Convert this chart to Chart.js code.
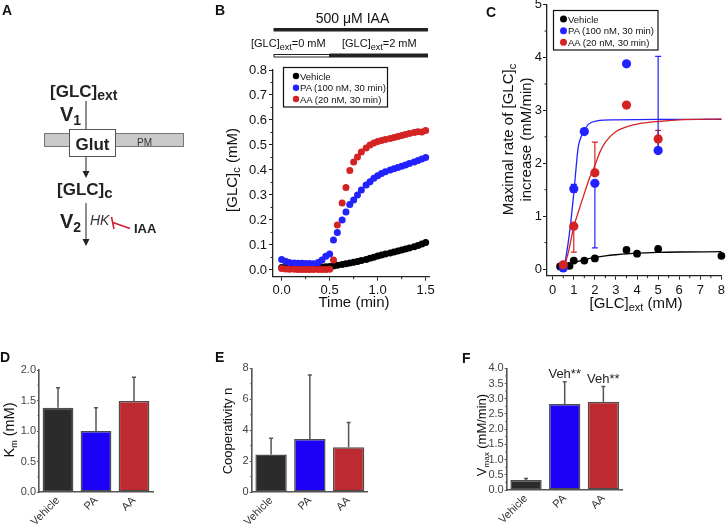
<!DOCTYPE html>
<html>
<head>
<meta charset="utf-8">
<script src="https://cdn.jsdelivr.net/npm/chart.js@4.4.0/dist/chart.umd.min.js"></script>
<style>
  body { margin: 0; background: #fff; }
  #wrap { position: relative; width: 726px; height: 524px; background: #fff; overflow: hidden; }
  #wrap canvas, #wrap svg { position: absolute; left: 0; top: 0; }
  #wrap svg { pointer-events: none; }
</style>
</head>
<body>
<div id="wrap">
  <canvas id="chartB" width="726" height="524"></canvas>
  <canvas id="chartC" width="726" height="524"></canvas>
  <canvas id="chartD" width="726" height="524"></canvas>
  <canvas id="chartE" width="726" height="524"></canvas>
  <canvas id="chartF" width="726" height="524"></canvas>

  <svg width="726" height="524" font-family="Liberation Sans, Arial, sans-serif" fill="#111">
    <!-- A: scheme -->
    <text x="2" y="15" font-size="14" font-weight="bold">A</text>
    <text x="50" y="97" font-size="17" font-weight="bold" fill="#222">[GLC]<tspan font-size="14" dy="3">ext</tspan></text>
    <line x1="86" y1="101" x2="86" y2="130" stroke="#444" stroke-width="1.2"/>
    <text x="60" y="121" font-size="20" font-weight="bold" fill="#222">V<tspan font-size="14" dy="4">1</tspan></text>
    <rect x="44.5" y="133.5" width="139" height="13" fill="#c9c9c9" stroke="#777" stroke-width="1"/>
    <text x="137" y="146" font-size="10" fill="#333">PM</text>
    <rect x="69.5" y="129.5" width="46" height="27" fill="#fff" stroke="#555" stroke-width="1"/>
    <text x="92.5" y="150" font-size="17" font-weight="bold" text-anchor="middle" fill="#222">Glut</text>
    <line x1="86" y1="157" x2="86" y2="172" stroke="#444" stroke-width="1.2"/>
    <polygon points="82.5,171 89.5,171 86,178" fill="#222"/>
    <text x="57" y="195" font-size="17" font-weight="bold" fill="#222">[GLC]<tspan font-size="15" dy="3">c</tspan></text>
    <line x1="86" y1="203" x2="86" y2="240" stroke="#444" stroke-width="1.2"/>
    <polygon points="82.5,239 89.5,239 86,246" fill="#222"/>
    <text x="60" y="228" font-size="20" font-weight="bold" fill="#222">V<tspan font-size="14" dy="4">2</tspan></text>
    <text x="90" y="225" font-size="14" font-style="italic" fill="#333">HK</text>
    <line x1="111.5" y1="217" x2="114" y2="229" stroke="#d02030" stroke-width="1.6"/>
    <line x1="113" y1="222.5" x2="130" y2="228.5" stroke="#d02030" stroke-width="1.6"/>
    <text x="134" y="233" font-size="13" font-weight="bold" fill="#222">IAA</text>

    <!-- B: protocol bars, legend, titles -->
    <text x="215" y="15" font-size="14" font-weight="bold">B</text>
    <text x="352.5" y="22.5" font-size="14" text-anchor="middle">500 μM IAA</text>
    <rect x="273.5" y="28" width="154.5" height="3.5" fill="#222"/>
    <text x="251" y="47" font-size="11">[GLC]<tspan font-size="9" dy="3">ext</tspan><tspan dy="-3">=0 mM</tspan></text>
    <text x="342" y="47" font-size="11">[GLC]<tspan font-size="9" dy="3">ext</tspan><tspan dy="-3">=2 mM</tspan></text>
    <rect x="274" y="54.5" width="55.5" height="2.5" fill="#fff" stroke="#222" stroke-width="1"/>
    <rect x="329.5" y="53.5" width="98.5" height="4" fill="#222"/>
    <rect x="283.5" y="67.5" width="104" height="39.5" fill="#fff" stroke="#111" stroke-width="1.2"/>
    <circle cx="296" cy="76" r="3.2" fill="#000"/>
    <text x="300" y="79.5" font-size="9.5">Vehicle</text>
    <circle cx="296" cy="87.7" r="3.2" fill="#2222ff"/>
    <text x="300" y="91.2" font-size="9.5">PA (100 nM, 30 min)</text>
    <circle cx="296" cy="99" r="3.2" fill="#d42323"/>
    <text x="300" y="102.5" font-size="9.5">AA (20 nM, 30 min)</text>
    <text transform="translate(236.5,170) rotate(-90)" font-size="15" text-anchor="middle">[GLC]<tspan font-size="11" dy="3">c</tspan><tspan dy="-3"> (mM)</tspan></text>
    <text x="354" y="307" font-size="15" text-anchor="middle">Time (min)</text>

    <!-- C: legend, titles -->
    <text x="486" y="16.5" font-size="14" font-weight="bold">C</text>
    <rect x="553.5" y="10.5" width="104.5" height="39.5" fill="#fff" stroke="#111" stroke-width="1.2"/>
    <circle cx="563.5" cy="19" r="3.5" fill="#000"/>
    <text x="568" y="22.5" font-size="9.5">Vehicle</text>
    <circle cx="563.5" cy="30.7" r="3.5" fill="#2222ff"/>
    <text x="568" y="34.2" font-size="9.5">PA (100 nM, 30 min)</text>
    <circle cx="563.5" cy="42.3" r="3.5" fill="#d42323"/>
    <text x="568" y="45.8" font-size="9.5">AA (20 nM, 30 min)</text>
    <text transform="translate(512.5,139.5) rotate(-90)" font-size="15" text-anchor="middle">Maximal rate of [GLC]<tspan font-size="11" dy="3">c</tspan></text>
    <text transform="translate(530.5,139.5) rotate(-90)" font-size="15" text-anchor="middle">increase (mM/min)</text>
    <text x="636" y="308" font-size="15" text-anchor="middle">[GLC]<tspan font-size="11" dy="3">ext</tspan><tspan dy="-3"> (mM)</tspan></text>

    <!-- D, E, F: letters and titles -->
    <text x="0" y="362" font-size="14" font-weight="bold">D</text>
    <text x="215" y="362" font-size="14" font-weight="bold">E</text>
    <text x="462" y="363" font-size="14" font-weight="bold">F</text>
    <text transform="translate(13.5,430) rotate(-90)" font-size="14.5" text-anchor="middle">K<tspan font-size="9" dy="3">m</tspan><tspan dy="-3"> (mM)</tspan></text>
    <text transform="translate(232,431) rotate(-90)" font-size="13" text-anchor="middle">Cooperativity n</text>
    <text transform="translate(486,435) rotate(-90)" font-size="13" text-anchor="middle">V<tspan font-size="8" dy="3">max</tspan><tspan dy="-3"> (mM/min)</tspan></text>
  </svg>
</div>

<script>
// ---- B: time course of [GLC]c (mM) ----
const bTime = [0, 0.04, 0.08, 0.13, 0.17, 0.21, 0.25, 0.29, 0.33, 0.38, 0.42, 0.46, 0.5, 0.54, 0.58, 0.63, 0.67, 0.71, 0.75, 0.79,
               0.83, 0.88, 0.92, 0.96, 1.0, 1.04, 1.08, 1.13, 1.17, 1.21, 1.25, 1.29, 1.33, 1.38, 1.42, 1.46, 1.5];
const bVehicle = [0.010, 0.010, 0.010, 0.010, 0.010, 0.010, 0.010, 0.010, 0.010, 0.011, 0.012, 0.013, 0.014, 0.016, 0.019, 0.022, 0.025, 0.028, 0.031, 0.034,
                  0.038, 0.042, 0.047, 0.051, 0.056, 0.060, 0.064, 0.068, 0.072, 0.076, 0.080, 0.084, 0.088, 0.093, 0.098, 0.104, 0.110];
const bPA = [0.042, 0.035, 0.030, 0.028, 0.027, 0.027, 0.026, 0.026, 0.025, 0.030, 0.040, 0.055, 0.064, 0.120, 0.150, 0.200, 0.232, 0.262, 0.280, 0.300,
             0.320, 0.340, 0.353, 0.367, 0.377, 0.386, 0.393, 0.400, 0.405, 0.410, 0.415, 0.420, 0.426, 0.432, 0.438, 0.444, 0.450];
const bAA = [0.006, 0.004, 0.003, 0.003, 0.002, 0.002, 0.002, 0.002, 0.002, 0.002, 0.002, 0.002, 0.003, 0.040, 0.180, 0.268, 0.330, 0.398, 0.432, 0.452,
             0.472, 0.488, 0.500, 0.508, 0.514, 0.518, 0.522, 0.526, 0.530, 0.534, 0.538, 0.542, 0.546, 0.550, 0.553, 0.552, 0.558];
const bXTicks = [0, 0.5, 1.0, 1.5];
const bXMinor = [0.25, 0.75, 1.25];
const bYTicks = [0, 0.1, 0.2, 0.3, 0.4, 0.5, 0.6, 0.7, 0.8];
const bYMinor = [0.05, 0.15, 0.25, 0.35, 0.45, 0.55, 0.65, 0.75];

// ---- C: maximal rate vs [GLC]ext ----
const cVehX = [0.35, 0.8, 1, 1.5, 2, 3.5, 4, 5, 8];
const cVehY = [0.05, 0.06, 0.16, 0.16, 0.20, 0.36, 0.29, 0.38, 0.25];
const cPAX = [0.5, 1, 1.5, 2, 3.5, 5];
const cPAY = [0.02, 1.52, 2.60, 1.62, 3.88, 2.24];
const cPALow = [null, 1.45, null, 0.40, null, null];
const cPAHigh = [null, 1.60, null, null, null, 4.02];
const cAAX = [0.5, 1, 2, 3.5, 5];
const cAAY = [0.08, 0.81, 1.82, 3.10, 2.46];
const cAALow = [null, 0.32, null, null, 2.30];
const cAAHigh = [null, null, 2.40, null, 2.62];
const cFitVehX = [0.35, 0.5, 0.75, 1, 1.5, 2, 2.5, 3, 4, 5, 6, 8];
const cFitVeh = [0.02, 0.04, 0.08, 0.12, 0.18, 0.22, 0.25, 0.27, 0.30, 0.315, 0.322, 0.328];
const cFitPAX = [0.45, 0.55, 0.66, 0.77, 0.87, 1.0, 1.14, 1.21, 1.3, 1.4, 1.5, 1.7, 2.1, 3, 5, 8];
const cFitPA = [0.0, 0.06, 0.30, 0.60, 0.93, 1.43, 2.05, 2.30, 2.45, 2.55, 2.62, 2.74, 2.80, 2.82, 2.83, 2.83];
const cFitAAX = [0.45, 0.6, 0.75, 1, 1.25, 1.5, 1.75, 2, 2.25, 2.5, 3, 3.5, 4, 5, 6, 8];
const cFitAA = [0.02, 0.12, 0.33, 0.80, 1.12, 1.43, 1.72, 1.96, 2.22, 2.40, 2.60, 2.69, 2.74, 2.79, 2.82, 2.84];
const cXTicks = [0, 1, 2, 3, 4, 5, 6, 7, 8];
const cXMinor = [0.5, 1.5, 2.5, 3.5, 4.5, 5.5, 6.5, 7.5];
const cYTicks = [0, 1, 2, 3, 4, 5];
const cYMinor = [0.5, 1.5, 2.5, 3.5, 4.5];

// ---- D, E, F: fit parameters ----
const groups = ['Vehicle', 'PA', 'AA'];
const dKm = [1.38, 1.00, 1.49];
const dKmErr = [1.71, 1.38, 1.88];
const eHill = [2.42, 3.42, 2.90];
const eHillErr = [3.47, 7.57, 4.50];
const fVmax = [0.33, 2.83, 2.90];
const fVmaxErr = [0.38, 3.56, 3.40];
const fSig = ['', 'Veh**', 'Veh**'];
const dYTicks = [0, 0.5, 1.0, 1.5, 2.0];
const dYMinor = [0.25, 0.75, 1.25, 1.75];
const eYTicks = [0, 2, 4, 6, 8];
const eYMinor = [1, 3, 5, 7];
const fYTicks = [0, 0.5, 1.0, 1.5, 2.0, 2.5, 3.0, 3.5, 4.0];
const fYMinor = [0.25, 0.75, 1.25, 1.75, 2.25, 2.75, 3.25, 3.75];

const BLACK = '#000000', BLUE = '#2222ff', RED = '#d42323';
const barColors = ['#2b2b2b', '#1c00f8', '#bd2a31'];
const W = 726, H = 524;

Chart.defaults.font.family = '"Liberation Sans", Arial, Helvetica, sans-serif';
Chart.defaults.animation = false;
Chart.defaults.responsive = false;
Chart.defaults.events = [];
Chart.defaults.plugins.legend.display = false;
Chart.defaults.plugins.tooltip.enabled = false;

// place the plot area at fixed page pixels (l, t, r, b)
function pad(l, t, r, b, yW, xH) {
    return { left: l - yW, top: t, right: W - r, bottom: H - b - xH };
}

function fit(s, size) {
    if (s.isHorizontal()) s.height = size; else s.width = size;
    s.paddingLeft = s.paddingRight = s.paddingTop = s.paddingBottom = 0;
}

function numAxis(min, max, ticks, dec, look, size) {
    return {
        type: 'linear', min: min, max: max,
        afterBuildTicks: s => { s.ticks = ticks.map(v => ({ value: v })); },
        afterFit: s => fit(s, size),
        ticks: { autoSkip: false, maxRotation: 0, padding: look.pad, font: { size: look.fs }, color: look.text,
                 callback: v => Number(v).toFixed(dec) },
        grid: { drawOnChartArea: false, drawTicks: true, tickLength: look.tick, tickColor: look.axis, tickWidth: 1 },
        border: { color: look.axis, width: look.lw }
    };
}

function pts(xs, ys) {
    return xs.map((x, i) => ({ x: x, y: ys[i] }));
}

const minorTicks = {
    id: 'minorTicks',
    afterDraw(chart, args, opts) {
        const ctx = chart.ctx;
        ['x', 'y'].forEach(k => {
            if (!opts || !opts[k]) return;
            const s = chart.scales[k];
            ctx.save();
            ctx.strokeStyle = opts.color;
            ctx.lineWidth = 1;
            opts[k].forEach(v => {
                const p = s.getPixelForValue(v);
                ctx.beginPath();
                if (k === 'y') { ctx.moveTo(s.right - opts.len, p); ctx.lineTo(s.right, p); }
                else { ctx.moveTo(p, s.top); ctx.lineTo(p, s.top + opts.len); }
                ctx.stroke();
            });
            ctx.restore();
        });
    }
};

const errorBars = {
    id: 'errorBars',
    beforeDatasetsDraw(chart) {
        const ctx = chart.ctx;
        chart.data.datasets.forEach((ds, i) => {
            if (!ds.errLow && !ds.errHigh) return;
            const meta = chart.getDatasetMeta(i);
            const ys = chart.scales[meta.yAxisID];
            const cap = ds.errCap || 3;
            ctx.save();
            ctx.strokeStyle = ds.errColor || ds.backgroundColor;
            ctx.lineWidth = ds.errWidth || 1.2;
            meta.data.forEach((el, j) => {
                const d = ds.data[j];
                const v = typeof d === 'object' ? d.y : d;
                const lo = ds.errLow ? ds.errLow[j] : null;
                const hi = ds.errHigh ? ds.errHigh[j] : null;
                if (lo == null && hi == null) return;
                const y0 = ys.getPixelForValue(lo == null ? v : lo);
                const y1 = ys.getPixelForValue(hi == null ? v : hi);
                ctx.beginPath();
                ctx.moveTo(el.x, y0); ctx.lineTo(el.x, y1);
                if (lo != null) { ctx.moveTo(el.x - cap, y0); ctx.lineTo(el.x + cap, y0); }
                if (hi != null) { ctx.moveTo(el.x - cap, y1); ctx.lineTo(el.x + cap, y1); }
                ctx.stroke();
            });
            ctx.restore();
        });
    }
};

const sigLabels = {
    id: 'sigLabels',
    afterDatasetsDraw(chart) {
        const ds = chart.data.datasets[0];
        if (!ds.sig) return;
        const meta = chart.getDatasetMeta(0), ys = chart.scales.y, ctx = chart.ctx;
        ctx.save();
        ctx.font = '13px "Liberation Sans", Arial, sans-serif';
        ctx.fillStyle = '#222';
        ctx.textAlign = 'center';
        ctx.textBaseline = 'alphabetic';
        meta.data.forEach((el, j) => {
            if (ds.sig[j]) ctx.fillText(ds.sig[j], el.x, ys.getPixelForValue(ds.errHigh[j]) - 3.5);
        });
        ctx.restore();
    }
};

const lookB = { fs: 13, text: '#111', axis: '#222', tick: 4, pad: 2, lw: 1.3 };
const lookCx = { fs: 13, text: '#111', axis: '#222', tick: 4, pad: 3, lw: 1.3 };
const lookCy = { fs: 13, text: '#111', axis: '#222', tick: 4, pad: 1, lw: 1.3 };
const lookBar = { fs: 11, text: '#444', axis: '#555', tick: 2, pad: 1, lw: 1.6 };

// B
new Chart(document.getElementById('chartB'), {
    type: 'scatter',
    data: { datasets: [
        { label: 'AA (20 nM, 30 min)', data: pts(bTime, bAA), backgroundColor: RED, order: 1, clip: false },
        { label: 'PA (100 nM, 30 min)', data: pts(bTime, bPA), backgroundColor: BLUE, order: 2, clip: false },
        { label: 'Vehicle', data: pts(bTime, bVehicle), backgroundColor: BLACK, order: 3, clip: false }
    ]},
    options: {
        layout: { padding: pad(273, 70, 429.5, 276.7, 40, 26) },
        elements: { point: { radius: 3.5, borderWidth: 0 } },
        scales: {
            x: numAxis(-0.09, 1.54, bXTicks, 1, lookB, 26),
            y: numAxis(-0.027, 0.8, bYTicks, 1, lookB, 40)
        },
        plugins: { minorTicks: { x: bXMinor, y: bYMinor, len: 2.5, color: '#222' } }
    },
    plugins: [minorTicks]
});

// C
function fitLine(xs, ys, color, order) {
    return { data: pts(xs, ys), showLine: true, borderColor: color, borderWidth: 1.3, pointRadius: 0,
             cubicInterpolationMode: 'monotone', order: order, clip: false };
}
new Chart(document.getElementById('chartC'), {
    type: 'scatter',
    data: { datasets: [
        { label: 'AA (20 nM, 30 min)', data: pts(cAAX, cAAY), backgroundColor: RED, pointRadius: 4.6,
          errLow: cAALow, errHigh: cAAHigh, order: 1, clip: false },
        { label: 'PA (100 nM, 30 min)', data: pts(cPAX, cPAY), backgroundColor: BLUE, pointRadius: 4.6,
          errLow: cPALow, errHigh: cPAHigh, order: 2, clip: false },
        { label: 'Vehicle', data: pts(cVehX, cVehY), backgroundColor: BLACK, pointRadius: 3.9, order: 3, clip: false },
        fitLine(cFitAAX, cFitAA, RED, 4),
        fitLine(cFitPAX, cFitPA, BLUE, 5),
        fitLine(cFitVehX, cFitVeh, BLACK, 6)
    ]},
    options: {
        layout: { padding: pad(547, 4, 721.7, 275.7, 30, 26) },
        elements: { point: { borderWidth: 0 } },
        scales: {
            x: numAxis(-0.27, 8, cXTicks, 0, lookCx, 26),
            y: numAxis(-0.126, 5, cYTicks, 0, lookCy, 30)
        },
        plugins: { minorTicks: { x: cXMinor, y: cYMinor, len: 2.5, color: '#222' } }
    },
    plugins: [errorBars, minorTicks]
});

// D, E, F
function makeBars(id, values, errTop, yTicks, yMinor, dec, area, sig) {
    return new Chart(document.getElementById(id), {
        type: 'bar',
        data: { labels: groups, datasets: [{
            data: values, errHigh: errTop, sig: sig,
            backgroundColor: barColors, borderColor: '#4d4d4d', borderWidth: 1.5, borderSkipped: false,
            barPercentage: 0.81, categoryPercentage: 1,
            errColor: '#555', errWidth: 1.5, errCap: 2
        }]},
        options: {
            layout: { padding: pad(area[0], area[1], area[2], area[3], 30, 34) },
            scales: {
                x: {
                    type: 'category',
                    afterFit: s => fit(s, 34),
                    grid: { display: false, drawTicks: false },
                    border: { color: '#555', width: 1.6 },
                    ticks: { autoSkip: false, minRotation: 45, maxRotation: 45, padding: 2,
                             font: { size: 11 }, color: '#333' }
                },
                y: numAxis(0, yTicks[yTicks.length - 1], yTicks, dec, lookBar, 30)
            },
            plugins: { minorTicks: { y: yMinor, len: 1.5, color: '#555' } }
        },
        plugins: [errorBars, minorTicks, sigLabels]
    });
}

makeBars('chartD', dKm, dKmErr, dYTicks, dYMinor, 1, [39, 370, 153, 492], null);
makeBars('chartE', eHill, eHillErr, eYTicks, eYMinor, 0, [251.7, 368.3, 368, 492], null);
makeBars('chartF', fVmax, fVmaxErr, fYTicks, fYMinor, 1, [506.7, 368.3, 622.7, 490], fSig);
</script>
</body>
</html>
